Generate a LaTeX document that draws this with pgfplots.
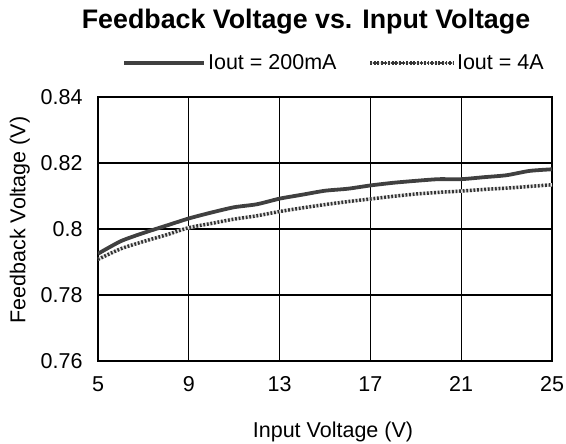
\documentclass[border=0pt]{standalone}
\usepackage{pgfplots}
\pgfplotsset{compat=1.18}
\usepackage{fontspec}
\setmainfont{Liberation Sans}
\begin{document}
\begin{tikzpicture}
\useasboundingbox (-98bp,-83bp) rectangle (468bp,361bp);
\begin{axis}[
  at={(0,0)}, anchor=south west,
  scale only axis, width=454bp, height=264bp,
  xmin=5, xmax=25, ymin=0.76, ymax=0.84,
  xtick={5,9,...,25}, ytick={0.76,0.78,...,0.84},
  yticklabels={0.76,0.78,0.8,0.82,0.84},
  grid=major, major grid style={black, line width=1.2pt},
  axis line style={black, line width=1.2pt},
  tick style={draw=none},
  /pgf/number format/assume math mode=true,
  ticklabel style={font=\fontsize{21.5bp}{25bp}\selectfont},
  xticklabel style={yshift=-12bp},
  yticklabel style={xshift=-12bp},
  xlabel={Input Voltage (V)}, ylabel={Feedback Voltage (V)},
  label style={font=\fontsize{21.5bp}{25bp}\selectfont},
  xlabel style={at={(axis description cs:0.5176,-0.269)}, anchor=center},
  ylabel style={at={(axis description cs:-0.172,0.534)}, anchor=center},
  title={\textbf{Feedback Voltage vs. Input Voltage}},
  title style={font=\fontsize{26.8bp}{31bp}\selectfont, at={(axis description cs:0.5,1)}, anchor=base, yshift=63bp, xshift=-19bp},
  legend style={at={(axis description cs:0.5,1)}, anchor=center, yshift=34bp, xshift=9bp,
    draw=none, fill=none, inner sep=0pt,
    legend columns=2, font=\fontsize{21.5bp}{25bp}\selectfont,
    /tikz/every even column/.append style={column sep=30bp}},
  legend cell align=left,
]
\addplot[color=black!75, line width=3.8pt, smooth, tension=0.4,
  legend image code/.code={\draw[black!75, line width=3.8pt] (0bp,0bp) -- (80bp,0bp);}] coordinates {
(5,0.7925) (6,0.7963) (7,0.7988) (8,0.8010) (9,0.8032) (10,0.8050) (11,0.8066) (12,0.8075)
(13,0.8092) (14,0.8104) (15,0.8116) (16,0.8122) (17,0.8132) (18,0.8140) (19,0.8146)
(20,0.8151) (21,0.8151) (22,0.8157) (23,0.8163) (24,0.8176) (25,0.8181)};
\addlegendentry{Iout = 200mA}
\addplot[color=black!12, line width=3.5pt, smooth, tension=0.4,
  postaction={draw=black!80, line width=3.5pt, dash pattern=on 1.8pt off 1.8pt},
  legend image code/.code={\draw[black!12, line width=2.4pt, postaction={draw=black!75, line width=2.4pt, dash pattern=on 1.3pt off 1.3pt}] (0bp,0bp) -- (83bp,0bp);}
] coordinates {
(5,0.7908) (6,0.7940) (7,0.7962) (8,0.7982) (9,0.8004) (10,0.8017) (11,0.8030) (12,0.8040)
(13,0.8053) (14,0.8064) (15,0.8074) (16,0.8083) (17,0.8091) (18,0.8099) (19,0.8106)
(20,0.8111) (21,0.8115) (22,0.8120) (23,0.8124) (24,0.8129) (25,0.8134)};
\addlegendentry{Iout = 4A}
\end{axis}
\end{tikzpicture}
\end{document}
